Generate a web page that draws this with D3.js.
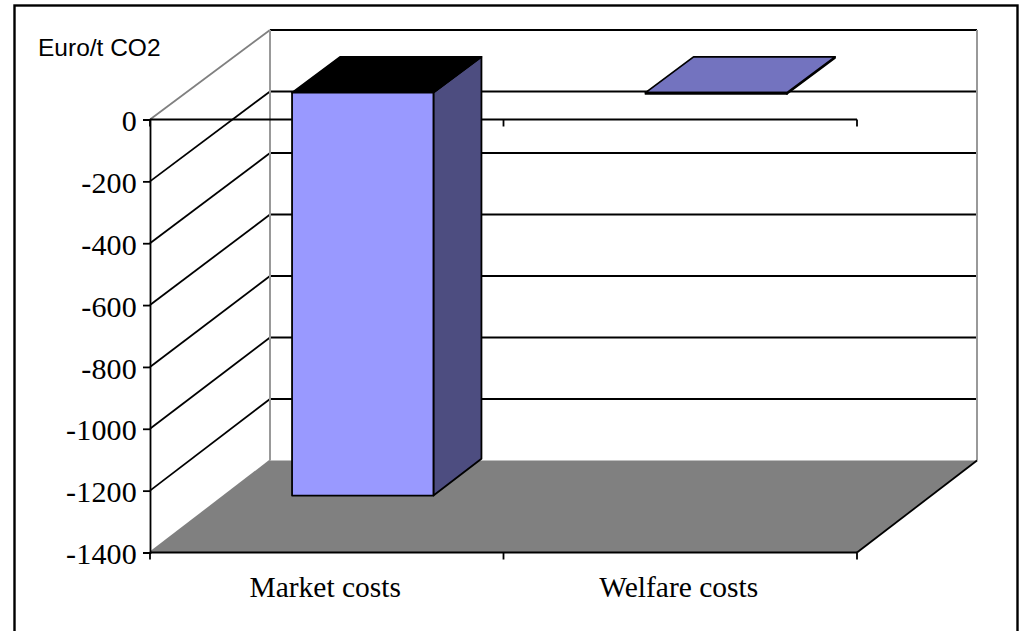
<!DOCTYPE html>
<html>
<head>
<meta charset="utf-8">
<script src="https://cdn.jsdelivr.net/npm/d3@7"></script>
<style>
html,body{margin:0;padding:0;background:#fff;overflow:hidden;}
svg{display:block;}
</style>
</head>
<body>
<svg id="chart" width="1019" height="631"></svg>
<script>
// Chart data
const categories = ["Market costs", "Welfare costs"];
const costValues = [-1305, -4];
const topColors = ["#000000", "#7373BF"];
const yTicks = [0, -200, -400, -600, -800, -1000, -1200, -1400];
const unitLabel = "Euro/t CO2";

const svg = d3.select("#chart");

// Oblique projection: depth runs up and to the right, from the front plane to the back wall.
const depthX = 120;
const y = d3.scaleLinear().domain([0, -1400]).range([119.5, 552.5]);
const yBack = d3.scaleLinear().domain([0, -1400]).range([30, 460.5]);
const x = d3.scaleBand().domain(categories).range([150, 857]);
const project = (px, v, d) => [px + depthX * d, y(v) + (yBack(v) - y(v)) * d];
const path = pts => "M" + pts.map(p => p.join(",")).join("L") + "Z";

const BLACK = "#000", GREY = "#808080", LIGHT = "#999";
const LW = 1.8;
const line = (x1, y1, x2, y2, stroke, w) =>
  svg.append("line").attr("x1", x1).attr("y1", y1).attr("x2", x2).attr("y2", y2)
    .attr("stroke", stroke).attr("stroke-width", w);

// Outer frame
svg.append("rect").attr("x", 14.5).attr("y", 5.5).attr("width", 1003).attr("height", 640)
  .attr("fill", "#fff").attr("stroke", "#000").attr("stroke-width", 2.4);

const [x0, x1] = x.range();

// Floor
svg.append("path")
  .attr("d", path([project(x0, -1400, 0), project(x1, -1400, 0),
                   project(x1, -1400, 1), project(x0, -1400, 1)]))
  .attr("fill", GREY);

// Gridlines on the back and side walls
yTicks.forEach(t => {
  const [bx, by] = project(x0, t, 1);
  const [rx] = project(x1, t, 1);
  if (t !== -1400) line(bx, by, rx, by, BLACK, LW);
  line(x0, y(t), bx, by, t === 0 || t === -1400 ? GREY : BLACK, LW);
});

// Wall corners
const [backLeft, backTop] = project(x0, 0, 1);
const [backRight, backBottom] = project(x1, -1400, 1);
line(backLeft, backTop, backLeft, backBottom, LIGHT, 2);
line(backRight, backTop, backRight, backBottom, LIGHT, 2);
line(x1, y(-1400), backRight, backBottom, BLACK, LW);

// Front-plane axis lines
line(x0, y(0), x1, y(0), BLACK, 2);
line(x0, y(-1400), x1, y(-1400), BLACK, 2.2);

// Category tick marks at band boundaries, on both horizontal axes
[0, 1, 2].forEach(i => {
  const tx = x0 + i * x.step();
  line(tx, y(0), tx, y(0) + 7, BLACK, LW);
  line(tx, y(-1400), tx, y(-1400) + 7, BLACK, LW);
});

// Value axis
const yAxis = d3.axisLeft(y).tickValues(yTicks).tickFormat(String).tickSize(7).tickPadding(6);
const yG = svg.append("g").attr("transform", `translate(${x0},0)`).call(yAxis);
yG.select(".domain").attr("stroke", BLACK).attr("stroke-width", LW);
yG.selectAll(".tick line").attr("stroke", BLACK).attr("stroke-width", LW);
yG.selectAll("text").attr("font-family", "'Liberation Serif'").attr("font-size", 30)
  .attr("fill", "#000").attr("dy", "0.37em")
  .attr("letter-spacing", "0.2px");

// Category labels
const xAxis = d3.axisBottom(x).tickSize(0).tickPadding(24);
const xG = svg.append("g").attr("transform", `translate(-1.5,${y(-1400)})`).call(xAxis);
xG.select(".domain").remove();
xG.selectAll("text").attr("font-family", "'Liberation Serif'").attr("font-size", 29.5).attr("fill", "#000");

// Bars: gap width 150% across the band, occupying the middle of the depth
const barInset = x.step() * 0.3, barWidth = x.step() * 0.4;
const dFront = 0.3, dBack = 0.7;
categories.forEach((c, i) => {
  const left = x(c) + barInset, right = left + barWidth;
  const v = costValues[i];
  const g = svg.append("g").attr("stroke", BLACK).attr("stroke-width", LW).attr("stroke-linejoin", "round");
  g.append("path").attr("fill", "#4D4D80")
    .attr("d", path([project(right, 0, dFront), project(right, 0, dBack),
                     project(right, v, dBack), project(right, v, dFront)]));
  g.append("path").attr("fill", topColors[i])
    .attr("d", path([project(left, 0, dFront), project(right, 0, dFront),
                     project(right, 0, dBack), project(left, 0, dBack)]));
  g.append("path").attr("fill", "#9999FF")
    .attr("d", path([project(left, 0, dFront), project(right, 0, dFront),
                     project(right, v, dFront), project(left, v, dFront)]));
});

// Unit label
svg.append("text").attr("x", 38).attr("y", 56).attr("font-family", "'Liberation Sans'")
  .attr("font-size", 24.5).attr("fill", "#000").text(unitLabel);
</script>
</body>
</html>
